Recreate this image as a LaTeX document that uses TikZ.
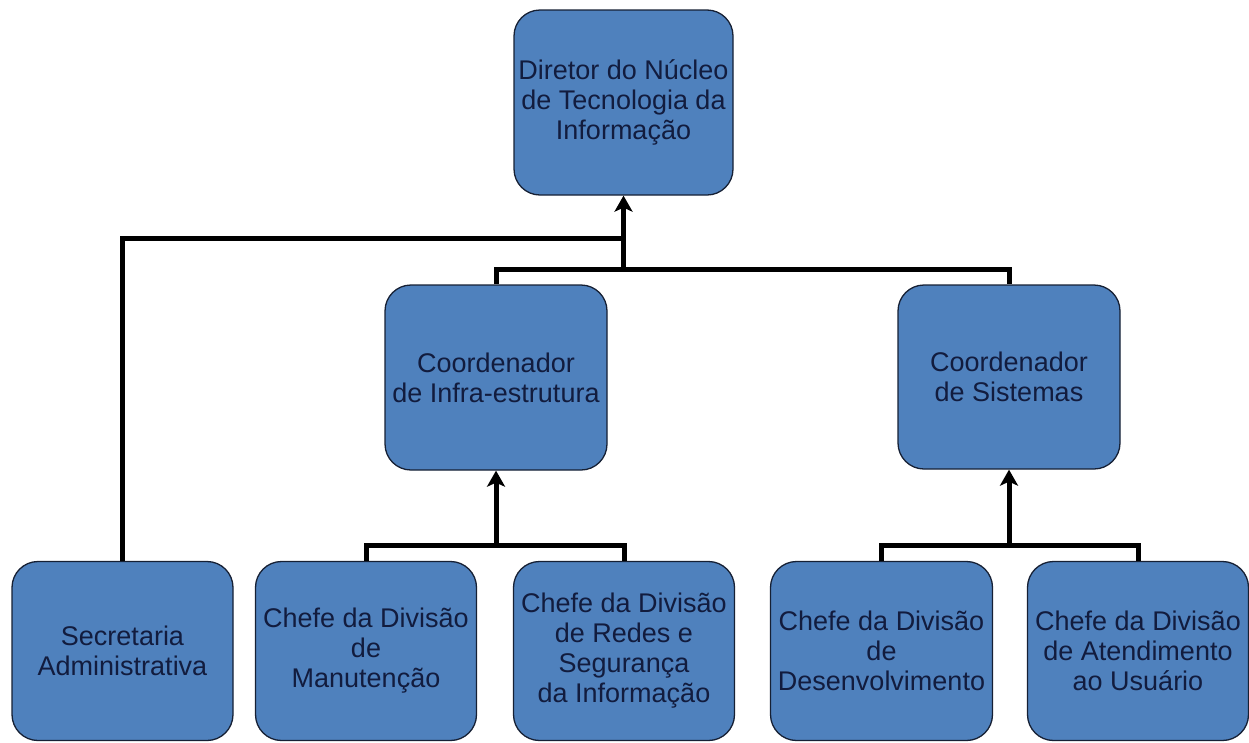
\documentclass[tikz,border=0pt]{standalone}
\usepackage{fontspec}
\setmainfont{Liberation Sans}
\usepackage{tikz}
\usepackage{xcolor}
\usetikzlibrary{arrows.meta}
\definecolor{boxblue}{RGB}{79,129,189}
\definecolor{boxline}{RGB}{22,32,52}
\definecolor{boxtext}{RGB}{18,28,62}
\tikzset{%
  tipA/.tip={Stealth[length=16pt,width=18pt,inset=4pt]},
  orgbox/.style={draw=boxline, line width=1.3pt, fill=boxblue, rounded corners=26pt,
    text=boxtext, align=center, inner sep=0pt,
    font=\fontsize{27}{30}\selectfont},
  link/.style={black, line width=5pt},
  linkup/.style={link, -tipA}
}

\begin{document}
\begin{tikzpicture}[x=1pt,y=-1pt]
\useasboundingbox (0,0) rectangle (1249,742);
\node[orgbox, minimum width=219pt, minimum height=185pt] (dir) at (623.5,102.5) {Diretor do Núcleo\\de Tecnologia da\\Informação};
\node[orgbox, minimum width=222pt, minimum height=185pt] (infra) at (496,377.5) {Coordenador\\de Infra-estrutura};
\node[orgbox, minimum width=222pt, minimum height=184pt] (sist) at (1009,377) {Coordenador\\de Sistemas};
\node[orgbox, minimum width=221pt, minimum height=179pt] (sec) at (122.5,651) {Secretaria\\Administrativa};
\node[orgbox, minimum width=221pt, minimum height=179pt] (manut) at (366,651) {Chefe da Divisão\\de\\Manutenção};
\node[orgbox, minimum width=221pt, minimum height=179pt] (redes) at (624,651) {Chefe da Divisão\\de Redes e\\Segurança\\da Informação};
\node[orgbox, minimum width=222pt, minimum height=179pt] (desenv) at (881.5,651) {Chefe da Divisão\\de\\Desenvolvimento};
\node[orgbox, minimum width=221pt, minimum height=179pt] (atend) at (1138,651) {Chefe da Divisão\\de Atendimento\\ao Usuário};
% junctions
\coordinate (secjoin) at (623.5,238);
\coordinate (topbus) at (623.5,269);
\coordinate (infrabus) at (496,545);
\coordinate (sistbus) at (1009,545);
% top level
\draw[link] (sec.north) |- (secjoin);
\draw[link] (infra.north) |- (topbus) -| (sist.north);
\draw[linkup] (topbus) -- (dir.south);
% infra-estrutura
\draw[link] (manut.north) |- (infrabus) -| (redes.north);
\draw[linkup] (infrabus) -- (infra.south);
% sistemas
\draw[link] (desenv.north) |- (sistbus) -| (atend.north);
\draw[linkup] (sistbus) -- (sist.south);
\end{tikzpicture}
\end{document}
